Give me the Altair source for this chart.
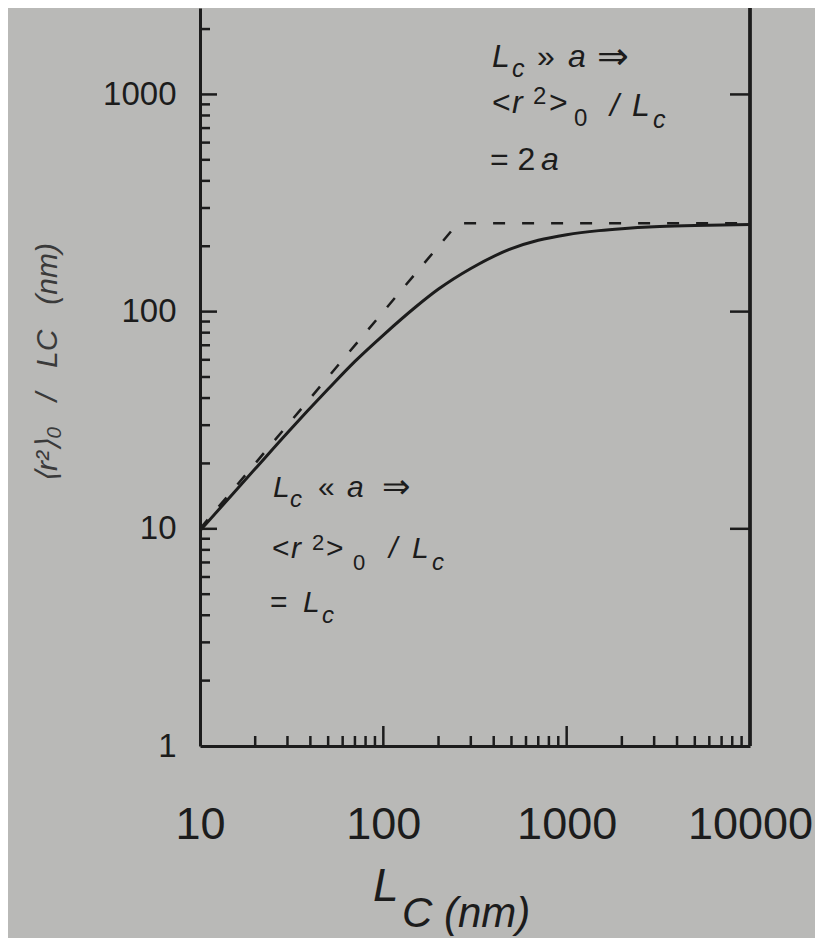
import altair as alt
import pandas as pd

# ---- data ----
lc_values = [10, 15, 20, 30, 50, 70, 100, 150, 200, 300, 500, 700, 1000, 1500, 2000, 3000, 5000, 10000]
r2_values = [9.8, 14.4, 18.9, 27.7, 44, 59, 78, 105, 127, 158, 195, 213, 226, 236, 241, 246, 249, 252]
lc_limit = [10, 255, 10000]
r2_limit = [10, 255, 255]

x_labels = [10, 100, 1000, 10000]
y_labels = [1, 10, 100, 1000]
x_major_ticks = [100, 1000]
x_minor_ticks = [20, 30, 40, 50, 60, 70, 80, 90,
                 200, 300, 400, 500, 600, 700, 800, 900,
                 2000, 3000, 4000, 5000, 6000, 7000, 8000, 9000]
y_major_ticks = [10, 100, 1000]
y_minor_ticks = [2, 3, 4, 5, 6, 7, 8, 9,
                 20, 30, 40, 50, 60, 70, 80, 90,
                 200, 300, 400, 500, 600, 700, 800, 900, 2000]

# ---- styling ----
W, H = 550, 738
INK = "#1c1c1c"
FONT = "Liberation Sans, Arial, Helvetica, sans-serif"
BG = "#b9b9b7"
NB = "\u00a0"

xs = alt.Scale(type="log", domain=[10, 10000], nice=False)
ys = alt.Scale(type="log", domain=[1, 2500], nice=False)

x_axis = alt.Axis(values=x_labels, format="d", title=None, grid=False, ticks=False,
                  labelFontSize=45, labelFont=FONT, labelColor=INK, labelPadding=56,
                  labelFlush=False, labelOverlap=False, domainColor=INK, domainWidth=3)
y_axis = alt.Axis(values=y_labels, format="d", title=None, grid=False, ticks=False,
                  labelFontSize=33, labelFont=FONT, labelColor=INK, labelPadding=24,
                  labelFlush=False, labelOverlap=False, domainColor=INK, domainWidth=3)

X = lambda: alt.X("Lc:Q", scale=xs, axis=x_axis)
Y = lambda: alt.Y("r2:Q", scale=ys, axis=y_axis)

solid = alt.Chart(pd.DataFrame({"Lc": lc_values, "r2": r2_values})).mark_line(
    color=INK, strokeWidth=3, interpolate="monotone").encode(x=X(), y=Y())
dashed = alt.Chart(pd.DataFrame({"Lc": lc_limit, "r2": r2_limit})).mark_line(
    color=INK, strokeWidth=2.5, strokeDash=[12, 17]).encode(x=X(), y=Y())

ymaj_df = pd.DataFrame({"r2": y_major_ticks})
ymin_df = pd.DataFrame({"r2": y_minor_ticks})
xmaj_df = pd.DataFrame({"Lc": x_major_ticks})
xmin_df = pd.DataFrame({"Lc": x_minor_ticks})

left_major = alt.Chart(ymaj_df).mark_rule(color=INK, strokeWidth=2.5).encode(
    y=Y(), x=alt.value(0), x2=alt.value(17))
left_minor = alt.Chart(ymin_df).mark_rule(color=INK, strokeWidth=2.5).encode(
    y=Y(), x=alt.value(0), x2=alt.value(10))
right_major = alt.Chart(ymaj_df).mark_rule(color=INK, strokeWidth=2.5).encode(
    y=Y(), x=alt.value(W - 20), x2=alt.value(W))
bottom_major = alt.Chart(xmaj_df).mark_rule(color=INK, strokeWidth=2.5).encode(
    x=X(), y=alt.value(H - 20), y2=alt.value(H))
bottom_minor = alt.Chart(xmin_df).mark_rule(color=INK, strokeWidth=2.5).encode(
    x=X(), y=alt.value(H - 10), y2=alt.value(H))
right_line = alt.Chart(ymaj_df).mark_rule(color=INK, strokeWidth=3).encode(
    x=alt.value(W), y=alt.value(0), y2=alt.value(H))

dummy = pd.DataFrame({"d": [0]})


def txt(s, x, y, size, italic=True, **kw):
    return alt.Chart(dummy).mark_text(
        text=s, x=x, y=y, fontSize=size, font=FONT,
        fontStyle="italic" if italic else "normal",
        align=kw.pop("align", "left"), baseline=kw.pop("baseline", "alphabetic"),
        color=kw.pop("color", INK), **kw)


texts = []
# lower annotation  (Lc << a)
ox, oy = 72, 489
texts += [txt("L", ox + 1, oy, 30), txt("c", ox + 18, oy + 10, 24),
          txt("«", ox + 46, oy, 30, False), txt("a", ox + 75, oy, 30),
          txt("⇒", ox + 110, oy + 1, 34, False)]
ly = oy + 61
texts += [txt("<", ox, ly, 30, False), txt("r", ox + 19, ly, 30),
          txt("2", ox + 40, ly - 8, 22, False), txt(">", ox + 54, ly, 30, False),
          txt("0", ox + 81, ly + 12, 22, False), txt("/", ox + 117, ly, 30),
          txt("L", ox + 140, ly, 30), txt("c", ox + 160, ly + 12, 24)]
ly3 = oy + 115
texts += [txt("=", ox - 2, ly3, 30, False), txt("L", ox + 31, ly3, 30),
          txt("c", ox + 50, ly3 + 11, 24)]

# upper annotation  (Lc >> a)
ux, uy = 292, 59
texts += [txt("L", ux, uy, 32), txt("c", ux + 20, uy + 10, 25),
          txt("»", ux + 45, uy, 32, False), txt("a", ux + 76, uy, 32),
          txt("⇒", ux + 105, uy + 2, 38, False)]
uy2 = uy + 46
texts += [txt("<", ux, uy2, 32, False), txt("r", ux + 20, uy2, 32),
          txt("2", ux + 41, uy2 - 9, 24, False), txt(">", ux + 57, uy2, 32, False),
          txt("0", ux + 82, uy2 + 13, 24, False), txt("/", ux + 118, uy2 + 3, 32),
          txt("L", ux + 140, uy2 + 3, 32), txt("c", ux + 161, uy2 + 15, 25)]
uy3 = uy + 103
texts += [txt("= 2", ux - 2, uy3, 32, False), txt("a", ux + 49, uy3, 32)]

# axis titles
ytitle = "⟨r²⟩₀" + NB * 3 + "/" + NB * 3 + "LC" + NB * 3 + "(nm)"
texts += [txt(ytitle, -152, 355, 30, angle=270, align="center",
              baseline="middle", color="#3a3a3a")]
texts += [txt("L", 173, 893, 46), txt("C (nm)", 202, 919, 42)]

chart = alt.layer(
    solid, dashed, left_major, left_minor, right_major, bottom_major, bottom_minor,
    right_line, *texts
).properties(
    width=W, height=H,
    padding={"left": 192, "top": 0, "right": 65, "bottom": 192},
    autosize=alt.AutoSizeParams(type="none"),
    background=BG,
).configure_view(stroke=None)

chart.save("out.html", embed_options={"renderer": "svg", "actions": False})
